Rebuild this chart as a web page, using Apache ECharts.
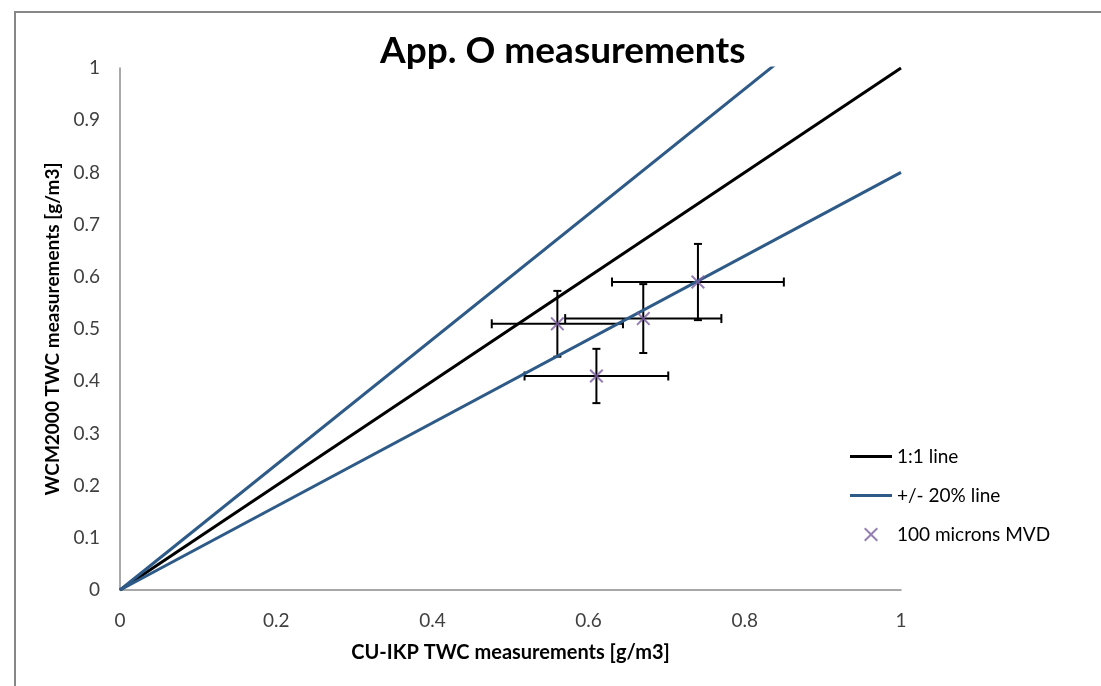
<!DOCTYPE html>
<html>
<head>
<meta charset="utf-8">
<title>App. O measurements</title>
<script src="https://cdn.jsdelivr.net/npm/echarts@6/dist/echarts.min.js"></script>
<style>
  html, body { margin: 0; padding: 0; background: #ffffff; }
  #chart { width: 1101px; height: 686px; }
</style>
</head>
<body>
<div id="chart"></div>
<script>
// CU-IKP (x) and WCM2000 (y) TWC measurements, g/m3
const cuIkp = [0.56, 0.61, 0.67, 0.74];
const wcm2000 = [0.51, 0.41, 0.52, 0.59];
// Error bar half-widths
const cuIkpErr = [0.084, 0.092, 0.10, 0.11];
const wcm2000Err = [0.063, 0.052, 0.066, 0.073];
// Reference lines (end points)
const oneToOneLine = [[0, 0], [1, 1]];
const plus20Line = [[0, 0], [1, 1.2]];
const minus20Line = [[0, 0], [1, 0.8]];

const FONT = 'Lato, "Open Sans", sans-serif';
const BLUE = '#2e5a88';
const PURPLE = '#7a5ea0';
const X_MARK = 'path://M1,0L5,4L9,0L10,1L6,5L10,9L9,10L5,6L1,10L0,9L4,5L0,1Z';
const LINE_ICON = 'path://M0,0L42,0L42,3L0,3Z';

const points = cuIkp.map((x, i) => [x, wcm2000[i]]);
const errData = cuIkp.map((x, i) => [x, wcm2000[i], cuIkpErr[i], wcm2000Err[i]]);

function renderErrorBar(params, api) {
  const x = api.value(0), y = api.value(1), xe = api.value(2), ye = api.value(3);
  const left = api.coord([x - xe, y]);
  const right = api.coord([x + xe, y]);
  const top = api.coord([x, y + ye]);
  const bottom = api.coord([x, y - ye]);
  const style = { stroke: '#000000', lineWidth: 2 };
  const capH = 4.5, capV = 4;
  const line = (x1, y1, x2, y2) => ({ type: 'line', shape: { x1, y1, x2, y2 }, style });
  return {
    type: 'group',
    children: [
      line(left[0], left[1], right[0], right[1]),
      line(left[0], left[1] - capH, left[0], left[1] + capH),
      line(right[0], right[1] - capH, right[0], right[1] + capH),
      line(top[0], top[1], bottom[0], bottom[1]),
      line(top[0] - capV, top[1], top[0] + capV, top[1]),
      line(bottom[0] - capV, bottom[1], bottom[0] + capV, bottom[1])
    ]
  };
}

const chart = echarts.init(document.getElementById('chart'), null, { renderer: 'canvas' });

chart.setOption({
  animation: false,
  backgroundColor: '#ffffff',
  textStyle: { fontFamily: FONT },
  graphic: [{
    type: 'rect',
    shape: { x: 15, y: 12, width: 1300, height: 900 },
    style: { fill: 'none', stroke: '#878787', lineWidth: 2 },
    silent: true
  }],
  title: {
    text: 'App. O measurements',
    left: 380,
    top: 33,
    padding: 0,
    textStyle: { fontFamily: FONT, fontSize: 37, fontWeight: 'bold', color: '#000000' }
  },
  legend: {
    orient: 'vertical',
    left: 850,
    top: 447,
    padding: 0,
    itemWidth: 42,
    itemHeight: 14,
    itemGap: 20,
    textStyle: { fontFamily: FONT, fontSize: 19, color: '#000000' },
    data: [
      { name: '1:1 line', icon: LINE_ICON },
      { name: '+/- 20% line', icon: LINE_ICON },
      { name: '100 microns MVD', icon: X_MARK }
    ]
  },
  grid: { left: 120, right: 200, top: 68, bottom: 96, containLabel: false },
  xAxis: {
    type: 'value',
    min: 0, max: 1, interval: 0.2,
    name: 'CU-IKP TWC measurements [g/m3]',
    nameLocation: 'middle',
    nameGap: 53,
    nameTextStyle: { fontFamily: FONT, fontSize: 20, fontWeight: 'bold', color: '#000000' },
    axisLine: { lineStyle: { color: '#8c8c8c', width: 1.5 } },
    axisTick: { show: false },
    splitLine: { show: false },
    axisLabel: { fontFamily: FONT, fontSize: 19, color: '#404040', margin: 21 }
  },
  yAxis: {
    type: 'value',
    min: 0, max: 1, interval: 0.1,
    name: 'WCM2000 TWC measurements [g/m3]',
    nameLocation: 'middle',
    nameGap: 52,
    nameTextStyle: { fontFamily: FONT, fontSize: 19, fontWeight: 'bold', color: '#000000' },
    axisLine: { show: true, lineStyle: { color: '#8c8c8c', width: 1.5 } },
    axisTick: { show: false },
    splitLine: { show: false },
    axisLabel: { fontFamily: FONT, fontSize: 19, color: '#404040', margin: 20 }
  },
  series: [
    {
      name: 'error bars',
      type: 'custom',
      renderItem: renderErrorBar,
      data: errData,
      encode: { x: 0, y: 1 },
      z: 1,
      silent: true
    },
    {
      name: '1:1 line',
      type: 'line',
      data: oneToOneLine,
      symbol: 'none',
      color: '#000000',
      lineStyle: { color: '#000000', width: 3 },
      z: 2
    },
    {
      name: '+/- 20% line',
      type: 'line',
      data: plus20Line,
      symbol: 'none',
      color: BLUE,
      lineStyle: { color: BLUE, width: 3 },
      clip: true,
      z: 2
    },
    {
      name: '+/- 20% line',
      type: 'line',
      data: minus20Line,
      symbol: 'none',
      color: BLUE,
      lineStyle: { color: BLUE, width: 3 },
      clip: true,
      z: 2
    },
    {
      name: '100 microns MVD',
      type: 'scatter',
      data: points,
      symbol: X_MARK,
      symbolSize: 14,
      color: PURPLE,
      itemStyle: { color: PURPLE },
      z: 3
    }
  ]
});
</script>
</body>
</html>
